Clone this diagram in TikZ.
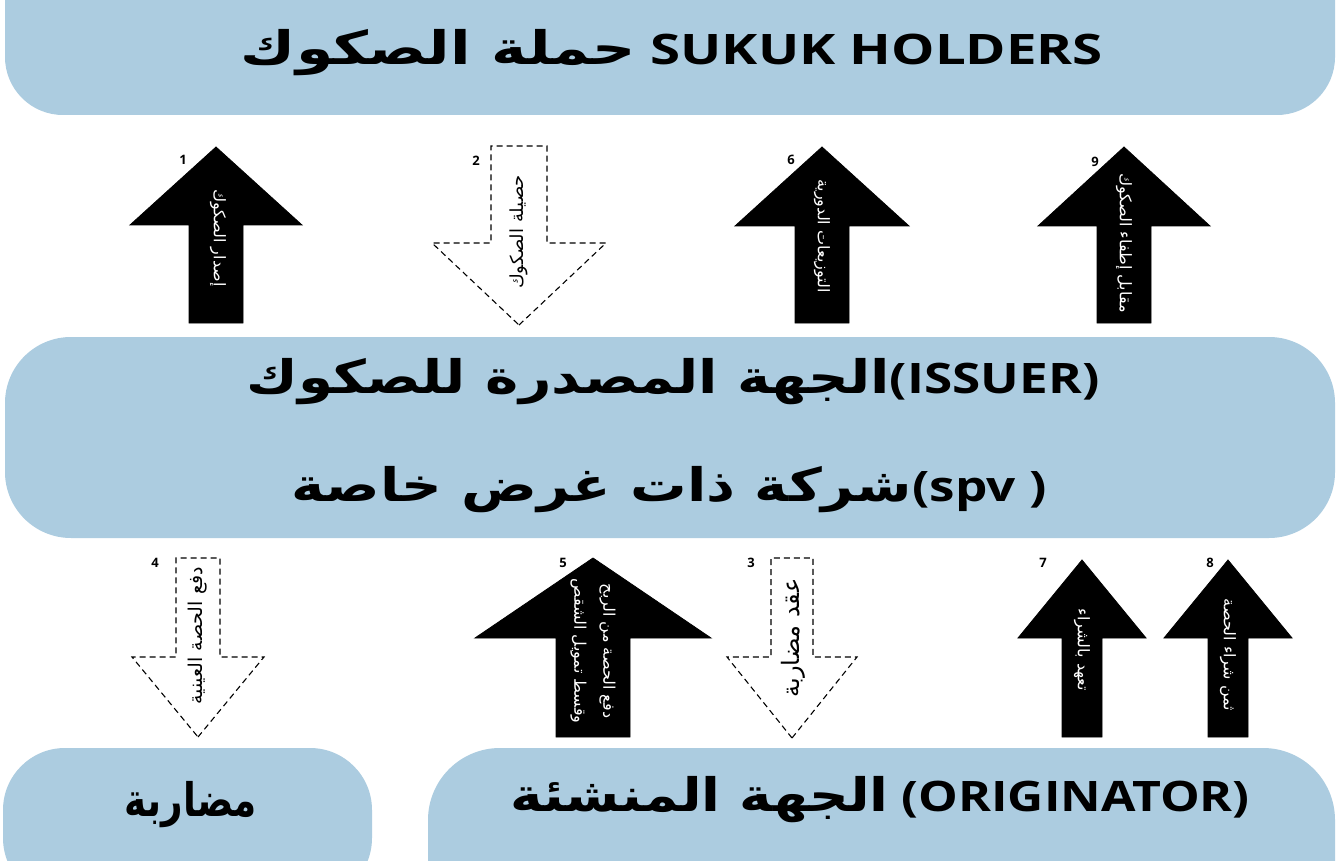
\documentclass[tikz,border=0pt]{standalone}
\usepackage{fontspec}
\setmainfont{Open Sans}
\newfontfamily\arabicfont[Script=Arabic]{DejaVu Sans}
\newfontfamily\arabictitle[Script=Arabic, Scale=1.1]{DejaVu Sans}
\TeXXeTstate=1
\definecolor{boxblue}{HTML}{ACCCE0}

% block arrow: #1 style, #2 centre x, #3 tip y, #4 head base y,
% #5 head half width, #6 shaft half width, #7 tail y
\newcommand{\blockarrow}[7]{%
  \draw[#1] (#2,#3) -- (#2+#5,#4) -- (#2+#6,#4) -- (#2+#6,#7)
    -- (#2-#6,#7) -- (#2-#6,#4) -- (#2-#5,#4) -- cycle;}

\tikzset{
  solidarrow/.style={fill=black, draw=black, line width=0.8pt},
  dasharrow/.style={draw=black, line width=1.1pt, dash pattern=on 6pt off 4pt},
  title/.style={font=\bfseries\fontsize{42}{48}\selectfont, inner sep=0pt, transform shape},
  flowlabel/.style={font=\arabicfont\fontsize{#1}{#1}\selectfont, inner sep=0pt, text=black, rotate=90},
  whitelabel/.style={font=\arabicfont\fontsize{16}{29}\selectfont, inner sep=0pt, text=white, align=center, rotate=-90},
  stepnum/.style={font=\bfseries\fontsize{13}{15}\selectfont, inner sep=0pt}
}

\begin{document}
\begin{tikzpicture}[x=1pt,y=-1pt]
\useasboundingbox (0,0) rectangle (1339,861);
\clip (0,0) rectangle (1339,861);
\fill[white] (0,0) rectangle (1339,861);

% parties
\fill[boxblue, rounded corners=58] (5,-80) -- (5,115) -- (1335,115) -- (1335,-80) -- cycle;
\fill[boxblue, rounded corners=66] (5,337) rectangle (1335,538);
\fill[boxblue, rounded corners=62] (3,748) rectangle (372,900);
\fill[boxblue, rounded corners=72] (428,748) rectangle (1335,960);

\node[title, xscale=1.30] (holders) at (672,53) {{\arabictitle\beginR حملة الصكوك\endR} SUKUK HOLDERS};
\node[title, xscale=1.22] (issuer) at (673,382) {{\arabictitle\beginR الجهة المصدرة للصكوك\endR}(ISSUER)};
\node[title, xscale=1.22] (spv) at (669,490) {{\arabictitle\beginR شركة ذات غرض خاصة\endR}(spv )};
\node[title, xscale=0.81] (mudaraba) at (191,805) {\arabictitle\beginR مضاربة\endR};
\node[title, xscale=1.19] (originator) at (880,800) {{\arabictitle\beginR الجهة المنشئة\endR} (ORIGINATOR)};

% flows between holders and issuer
\blockarrow{solidarrow}{216}{147}{225}{86}{27}{323}
\blockarrow{dasharrow}{519}{325}{243}{87}{28}{146}
\blockarrow{solidarrow}{822}{147}{226}{87}{27}{323}
\blockarrow{solidarrow}{1124}{147}{226}{86}{27}{323}

\node[whitelabel] (f1) at (218,238) {\beginR إصدار الصكوك\endR};
\node[flowlabel=18] (f2) at (519,232) {\beginR حصيلة الصكوك\endR};
\node[whitelabel] (f6) at (822,236) {\beginR التوزيعات الدورية\endR};
\node[whitelabel] (f9) at (1124,243) {\beginR مقابل إطفاء الصكوك\endR};

\node[stepnum] (n1) at (183,160) {1};
\node[stepnum] (n2) at (476,161) {2};
\node[stepnum] (n6) at (791,160) {6};
\node[stepnum] (n9) at (1095,162) {9};

% flows between issuer and the lower parties
\blockarrow{dasharrow}{198}{737}{657}{66}{22}{558}
\blockarrow{solidarrow}{593}{558}{638}{118}{37}{737}
\blockarrow{dasharrow}{792}{738}{657}{65}{21}{558}
\blockarrow{solidarrow}{1082}{560}{638}{64}{20}{737}
\blockarrow{solidarrow}{1228}{560}{638}{64}{20}{737}

\node[flowlabel=19] (f4) at (198,636) {\beginR دفع الحصة العينية\endR};
\node[whitelabel] (f5) at (593,651) {\beginR دفع الحصة من الربح\endR\\\beginR وقسط تمويل الشقص\endR};
\node[flowlabel=24] (f3) at (793,638) {\beginR عقد مضاربة\endR};
\node[whitelabel] (f7) at (1082,650) {\beginR تعهد بالشراء\endR};
\node[whitelabel] (f8) at (1228,655) {\beginR ثمن شراء الحصة\endR};

\node[stepnum] (n4) at (155,563) {4};
\node[stepnum] (n5) at (563,563) {5};
\node[stepnum] (n3) at (751,563) {3};
\node[stepnum] (n7) at (1043,563) {7};
\node[stepnum] (n8) at (1210,563) {8};
\end{tikzpicture}
\end{document}
